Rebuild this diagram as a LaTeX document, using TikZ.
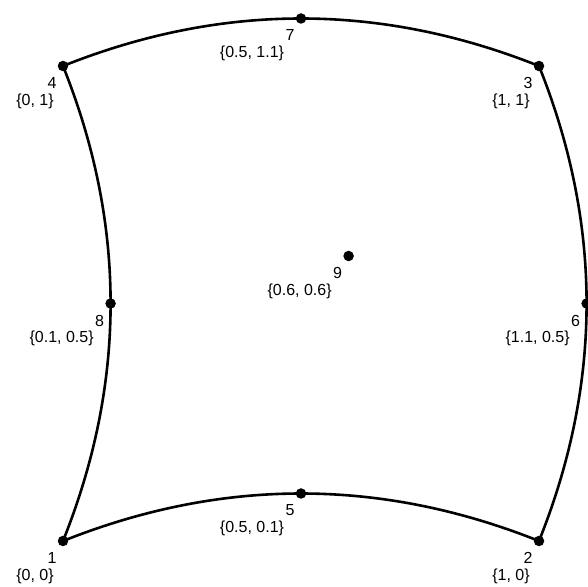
\documentclass[tikz,border=0pt]{standalone}
\usepackage{fontspec}
\setmainfont{Liberation Sans}
\begin{document}
\begin{tikzpicture}[x=476bp,y=475bp,
  pt/.style={circle,fill=black,inner sep=0pt,minimum size=10.5bp},
  edge/.style={line width=2.6bp,black},
  lbl/.style={inner sep=0pt,font=\fontsize{16bp}{19bp}\selectfont}]
\useasboundingbox (-0.13235,-0.09684) rectangle (1.10294,1.13895);
\node[pt] (n1) at (0,0) {};
\node[pt] (n2) at (1,0) {};
\node[pt] (n3) at (1,1) {};
\node[pt] (n4) at (0,1) {};
\node[pt] (n5) at (0.5,0.1) {};
\node[pt] (n6) at (1.1,0.5) {};
\node[pt] (n7) at (0.5,1.1) {};
\node[pt] (n8) at (0.1,0.5) {};
\node[pt] (n9) at (0.6,0.6) {};
\draw[edge] (n1.center) .. controls (0.3333,0.1333) and (0.6667,0.1333) .. (n2.center);
\draw[edge] (n2.center) .. controls (1.1333,0.3333) and (1.1333,0.6667) .. (n3.center);
\draw[edge] (n3.center) .. controls (0.6667,1.1333) and (0.3333,1.1333) .. (n4.center);
\draw[edge] (n4.center) .. controls (0.1333,0.6667) and (0.1333,0.3333) .. (n1.center);
\foreach \i/\t/\w in {1/{\{0, 0\}}/28, 2/{\{1, 0\}}/28, 3/{\{1, 1\}}/28, 4/{\{0, 1\}}/28,
  5/{\{0.5, 0.1\}}/49, 6/{\{1.1, 0.5\}}/49, 7/{\{0.5, 1.1\}}/49, 8/{\{0.1, 0.5\}}/49, 9/{\{0.6, 0.6\}}/49}{
  \node[lbl] (k\i) at ([xshift=-11bp,yshift=-17bp]n\i.center) {\i};
  \node[lbl] (c\i) at ([xshift=-\w bp,yshift=-35bp]n\i.center) {\t};
}
\end{tikzpicture}
\end{document}
